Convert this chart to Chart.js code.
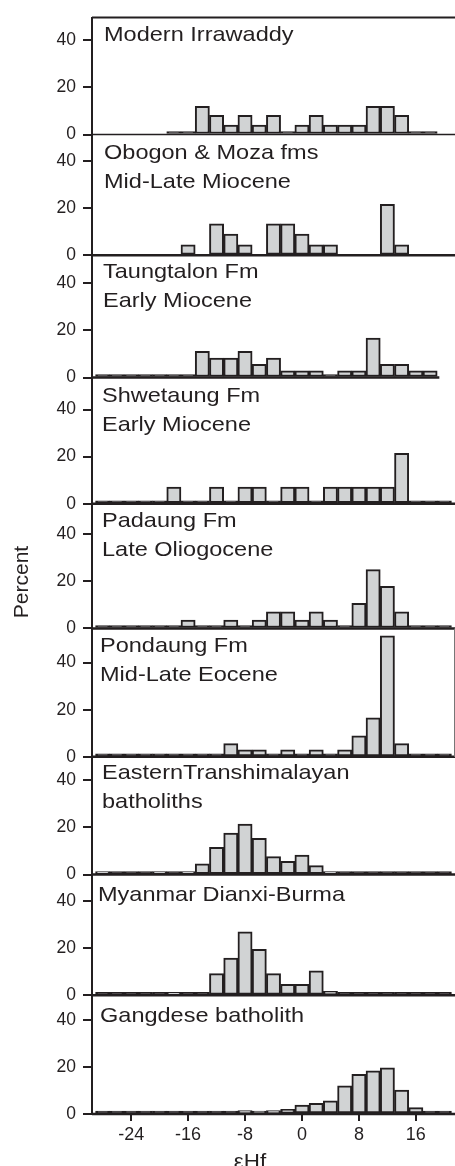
<!DOCTYPE html>
<html>
<head>
<meta charset="utf-8">
<script src="https://cdn.jsdelivr.net/npm/chart.js@4/dist/chart.umd.min.js"></script>
<style>
    html, body { margin: 0; padding: 0; background: #fff; }
    canvas { display: block; }
</style>
</head>
<body>
<canvas id="chartId" width="455" height="1166"></canvas>
<script>
// bin centres (eHf, 2-unit bins)
const bins = [-28, -26, -24, -22, -20, -18, -16, -14, -12, -10, -8, -6, -4, -2, 0, 2, 4, 6, 8, 10, 12, 14, 16, 18, 20];
const xTicks = [-24, -16, -8, 0, 8, 16];
const yTicks = [0, 20, 40];

const panelNames = [
    ["Modern Irrawaddy"],
    ["Obogon & Moza fms", "Mid-Late Miocene"],
    ["Taungtalon Fm", "Early Miocene"],
    ["Shwetaung Fm", "Early Miocene"],
    ["Padaung Fm", "Late Oliogocene"],
    ["Pondaung Fm", "Mid-Late Eocene"],
    ["EasternTranshimalayan", "batholiths"],
    ["Myanmar Dianxi-Burma"],
    ["Gangdese batholith"]
];
// top of each panel's percent axis
const axisMax = [49.7, 51.3, 51.9, 53.6, 53.0, 54.5, 50.0, 51.3, 50.4];

// percent per bin, null = no bin drawn
const n = null;
const irrawaddy      = [n, n, n, n, n, 0, 0, 12, 8.2, 4, 8.2, 4, 8.2, 0, 4, 8.2, 4, 4, 4, 12, 12, 8.2, 0, 0, n];
const obogonMoza     = [n, n, n, n, n, n, 4.5, n, 13.4, 9, 4.5, n, 13.4, 13.4, 9, 4.5, 4.5, n, n, n, 21.7, 4.5, n, n, n];
const taungtalon     = [0, 0, 0, 0, 0, 0, 0, 11.1, 8.3, 8.3, 11.1, 5.6, 8.3, 2.8, 2.8, 2.8, 0, 2.8, 2.8, 16.7, 5.6, 5.6, 2.8, 2.8, n];
const shwetaung      = [0, 0, 0, 0, 0, 7.1, 0, 0, 7.1, 0, 7.1, 7.1, 0, 7.1, 7.1, 0, 7.1, 7.1, 7.1, 7.1, 7.1, 21.4, 0, 0, 0];
const padaung        = [0, 0, 0, 0, 0, 0, 3.6, 0, 0, 3.6, 0, 3.6, 7.1, 7.1, 3.6, 7.1, 3.6, 0, 10.7, 25, 17.9, 7.1, 0, 0, 0];
const pondaung       = [0, 0, 0, 0, 0, 0, 0, 0, 0, 5.6, 3, 3, 0, 3, 0, 3, 0, 3, 8.9, 16.6, 51.4, 5.6, 0, 0, 0];
const transhimalayan = [0.6, 0, 0, 0, 0.6, 0, 0.6, 4.5, 11.6, 17.6, 21.4, 15.4, 7.6, 5.6, 8.3, 3.8, 1.2, 0, 0, 0, 0, 0, 0, 0, 0];
const dianxiBurma    = [0, 0, 0, 0, 0, 1, 0, 0, 9.2, 15.8, 27, 19.5, 9.2, 4.7, 4.7, 10.4, 1.7, 0, 0, 0, 0, 0, 0, 0, 0];
const gangdese       = [0, 0, 0, 0, 0, 0, 0, 0, 0, 0, 1.4, 0.6, 1.4, 2, 3.8, 4.5, 5.6, 12, 16.8, 18.3, 19.6, 10.2, 2.7, 0, 0];

const series = [irrawaddy, obogonMoza, taungtalon, shwetaung, padaung, pondaung, transhimalayan, dianxiBurma, gangdese];

const ink = '#231f20';
const fill = '#d1d3d4';
const font = 'Liberation Sans';

// label placement inside each panel
const titleX = [104, 104, 103, 102, 102, 100, 102, 98, 100];
const titleDy = [23.3, 24.7, 22.7, 24.3, 23.7, 24, 22, 26, 26.7];

function wideText(ctx, str, x, y, size, align) {
    ctx.save();
    ctx.font = size + 'px "' + font + '"';
    ctx.textAlign = align;
    ctx.textBaseline = 'alphabetic';
    ctx.fillStyle = ink;
    ctx.translate(x, y);
    ctx.scale(1.12, 1);
    ctx.fillText(str, 0, 0);
    ctx.restore();
}

const panelDecor = {
    id: 'panelDecor',
    beforeDatasetsDraw(chart) {
        const ctx = chart.ctx;
        const area = chart.chartArea;
        ctx.save();
        ctx.strokeStyle = ink;
        // frame top of first panel
        ctx.lineWidth = 2;
        ctx.beginPath();
        ctx.moveTo(area.left, area.top);
        ctx.lineTo(area.right, area.top);
        ctx.stroke();
        series.forEach((_, i) => {
            const s = chart.scales['p' + (i + 1)];
            const y0 = s.getPixelForValue(0);
            const xEnd = i === 2 ? chart.scales.x.getPixelForValue(19.3) : area.right;
            ctx.lineWidth = i === 0 ? 1.5 : 2.5;
            ctx.beginPath();
            ctx.moveTo(area.left, y0);
            ctx.lineTo(xEnd, y0);
            ctx.stroke();
        });
        // right edge of the Pondaung panel
        const p6 = chart.scales.p6;
        ctx.strokeStyle = '#777';
        ctx.lineWidth = 1;
        ctx.beginPath();
        ctx.moveTo(area.right - 0.5, p6.top);
        ctx.lineTo(area.right - 0.5, p6.bottom);
        ctx.stroke();
        ctx.restore();
    },
    afterDraw(chart) {
        const ctx = chart.ctx;
        panelNames.forEach((lines, i) => {
            const s = chart.scales['p' + (i + 1)];
            lines.forEach((t, k) => {
                wideText(ctx, t, titleX[i], s.top + titleDy[i] + k * 28.7, 21, 'left');
            });
        });
        // axis titles
        ctx.save();
        ctx.font = '21px "' + font + '"';
        ctx.fillStyle = ink;
        ctx.textAlign = 'center';
        ctx.textBaseline = 'middle';
        ctx.translate(22, 582);
        ctx.rotate(-Math.PI / 2);
        ctx.fillText('Percent', 0, 0);
        ctx.restore();
        wideText(ctx, 'εHf', 250, 1168, 20, 'center');
    }
};

const scales = {
    x: {
        type: 'linear',
        min: -29.5,
        max: 21.5,
        offset: false,
        afterBuildTicks: s => { s.ticks = xTicks.map(v => ({ value: v })); },
        afterFit: s => { s.height = 52; },
        border: { display: false },
        grid: { offset: false, drawOnChartArea: false, tickLength: 7, lineWidth: 2, color: ink },
        ticks: { font: { family: font, size: 18 }, color: ink, padding: 3, maxRotation: 0 }
    }
};
// left stacked axes are placed last-defined on top, so add bottom panel first
for (let i = series.length - 1; i >= 0; i--) {
    scales['p' + (i + 1)] = {
        type: 'linear',
        position: 'left',
        stack: 'panels',
        stackWeight: axisMax[i],
        min: 0,
        max: axisMax[i],
        afterBuildTicks: s => { s.ticks = yTicks.map(v => ({ value: v })); },
        afterFit: s => { s.width = 92; },
        border: { display: true, color: ink, width: 2 },
        grid: { drawOnChartArea: false, tickLength: 9, lineWidth: 2, color: ink },
        ticks: { font: { family: font, size: 17.5 }, color: ink, padding: 7 }
    };
}

const chrt = document.getElementById('chartId').getContext('2d');
const chartId = new Chart(chrt, {
    type: 'bar',
    data: {
        datasets: series.map((vals, i) => ({
            label: panelNames[i].join(' '),
            data: bins.map((b, j) => ({ x: b, y: vals[j] })).filter(p => p.y !== null),
            yAxisID: 'p' + (i + 1),
            grouped: false,
            // empty bins show as a dark dash on the baseline
            backgroundColor: c => (c.raw && c.raw.y === 0 ? ink : fill),
            borderColor: ink,
            borderWidth: 2,
            borderSkipped: false,
            minBarLength: 3,
            barPercentage: 1,
            categoryPercentage: 1
        }))
    },
    options: {
        responsive: false,
        animation: false,
        layout: { padding: { top: 15, left: 0, right: 0, bottom: 0 } },
        plugins: { legend: { display: false }, tooltip: { enabled: false } },
        scales: scales
    },
    plugins: [panelDecor]
});
</script>
</body>
</html>
